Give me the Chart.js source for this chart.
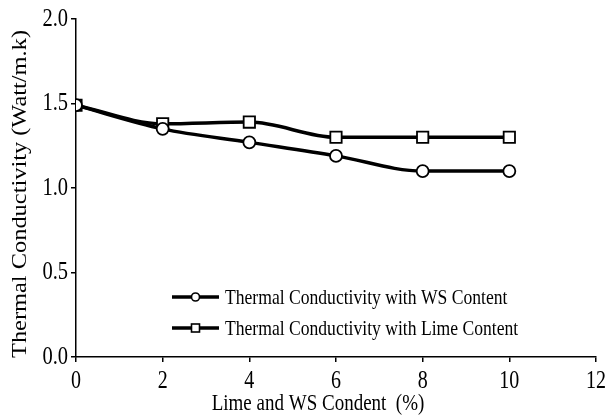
<!DOCTYPE html>
<html>
<head>
<meta charset="utf-8">
<script src="https://cdn.jsdelivr.net/npm/chart.js@4/dist/chart.umd.min.js"></script>
<style>
  html, body { margin: 0; padding: 0; background: #fff; }
  #wrap { width: 608px; height: 416px; position: relative; }
</style>
</head>
<body>
<div id="wrap"><canvas id="tcChart"></canvas></div>
<script>
// data
const contentPct = [0, 2, 4, 6, 8, 10];
const wsConductivity = [1.49, 1.35, 1.27, 1.19, 1.10, 1.10];
const limeConductivity = [1.49, 1.38, 1.39, 1.30, 1.30, 1.30];
const seriesLabels = ['Thermal Conductivity with WS Content', 'Thermal Conductivity with Lime Content'];
const xTicks = [0, 2, 4, 6, 8, 10, 12];
const yTicks = [0, 0.5, 1.0, 1.5, 2.0];
const xTitle = 'Lime and WS Condent  (%)';
const yTitle = 'Thermal Conductivity (Watt/m.k)';

const FONT = "'Liberation Serif', 'DejaVu Serif', serif";
const TALL = 1.23; // the source text is drawn taller than normal

const toPoints = ys => contentPct.map((x, i) => ({ x: x, y: ys[i] }));

function putText(ctx, text, x, y, size, align, sx, sy, rot) {
    ctx.save();
    ctx.translate(x, y);
    if (rot) ctx.rotate(rot);
    ctx.scale(sx, sy);
    ctx.font = size + 'px ' + FONT;
    ctx.fillStyle = '#000';
    ctx.textAlign = align;
    ctx.textBaseline = 'middle';
    ctx.fillText(text, 0, 0);
    ctx.restore();
}

// tick labels, axis titles and the legend inside the plot
const textLayer = {
    id: 'textLayer',
    afterDraw(chart) {
        const ctx = chart.ctx;
        const area = chart.chartArea;
        const xs = chart.scales.x;
        const ys = chart.scales.y;

        xTicks.forEach(v => {
            putText(ctx, String(v), xs.getPixelForValue(v), area.bottom + 25, 20, 'center', 1, TALL);
        });
        yTicks.forEach(v => {
            putText(ctx, v.toFixed(1), area.left - 8, ys.getPixelForValue(v), 20.5, 'right', 1, TALL);
        });
        putText(ctx, xTitle, (area.left + area.right) / 2 - 18, area.bottom + 47, 19, 'center', 1, TALL);

        ctx.font = '20px ' + FONT;
        const w = ctx.measureText(yTitle).width;
        putText(ctx, yTitle, 21, 194, 20, 'center', 328 / w, 1, -Math.PI / 2);

        const x0 = area.left + 96;
        const rows = [area.bottom - 60, area.bottom - 29];
        ctx.save();
        chart.data.datasets.forEach((ds, i) => {
            const y = rows[i];
            ctx.strokeStyle = '#000';
            ctx.lineWidth = 3.5;
            ctx.beginPath();
            ctx.moveTo(x0, y);
            ctx.lineTo(x0 + 47, y);
            ctx.stroke();
            ctx.fillStyle = '#fff';
            ctx.lineWidth = 1.6;
            const cx = x0 + 23.5;
            if (ds.pointStyle === 'rect') {
                ctx.fillRect(cx - 4, y - 4, 8, 8);
                ctx.strokeRect(cx - 4, y - 4, 8, 8);
            } else {
                ctx.beginPath();
                ctx.arc(cx, y, 4, 0, Math.PI * 2);
                ctx.fill();
                ctx.stroke();
            }
            putText(ctx, ds.label, x0 + 53, y + 1, 17.6, 'left', 1, TALL);
        });
        ctx.restore();
    }
};

const ctx = document.getElementById('tcChart');
new Chart(ctx, {
    type: 'line',
    data: {
        datasets: [
            {
                label: seriesLabels[0],
                data: toPoints(wsConductivity),
                borderColor: '#000',
                borderWidth: 3.5,
                pointStyle: 'circle',
                pointRadius: 6,
                pointBorderWidth: 1.8,
                pointBackgroundColor: '#fff',
                pointBorderColor: '#000',
                cubicInterpolationMode: 'monotone'
            },
            {
                label: seriesLabels[1],
                data: toPoints(limeConductivity),
                borderColor: '#000',
                borderWidth: 3.5,
                pointStyle: 'rect',
                pointRadius: 8,
                pointBorderWidth: 1.8,
                pointBackgroundColor: '#fff',
                pointBorderColor: '#000',
                cubicInterpolationMode: 'monotone'
            }
        ]
    },
    options: {
        responsive: true,
        maintainAspectRatio: false,
        animation: false,
        devicePixelRatio: 1,
        layout: { padding: { top: 19, right: 12, left: 0, bottom: 0 } },
        plugins: {
            legend: { display: false },
            tooltip: { enabled: false }
        },
        scales: {
            x: {
                type: 'linear',
                min: 0,
                max: 12,
                ticks: { stepSize: 2, display: false },
                grid: { display: true, drawOnChartArea: false, drawTicks: true, tickLength: 5, color: '#000', lineWidth: 1.5 },
                border: { color: '#000', width: 1.5 },
                afterFit(scale) { scale.height = 59; }
            },
            y: {
                min: 0,
                max: 2,
                ticks: { stepSize: 0.5, display: false },
                grid: { display: true, drawOnChartArea: false, drawTicks: true, tickLength: 5, color: '#000', lineWidth: 1.5 },
                border: { color: '#000', width: 1.5 },
                afterFit(scale) { scale.width = 76; }
            }
        }
    },
    plugins: [textLayer]
});
</script>
</body>
</html>
